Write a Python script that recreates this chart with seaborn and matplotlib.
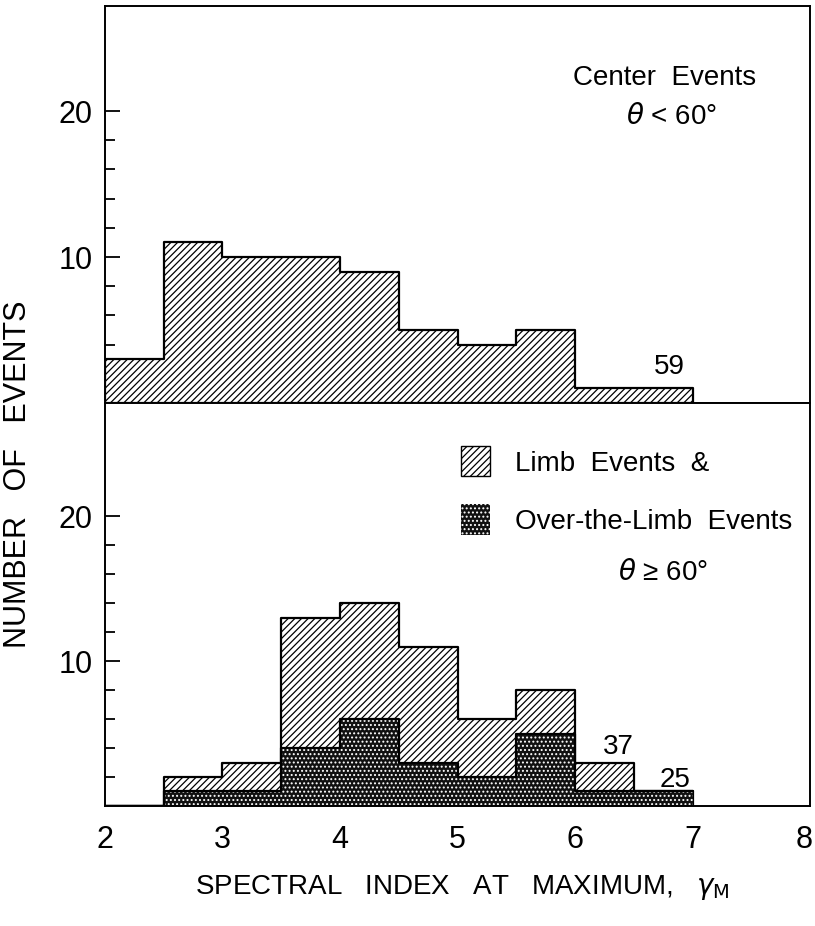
import numpy as np
import matplotlib
matplotlib.use("Agg")
import matplotlib.pyplot as plt
from matplotlib.patches import Patch
from matplotlib.ticker import FixedLocator
from matplotlib.transforms import ScaledTranslation
import seaborn as sns

# histogram bins of the spectral index, width 0.5
edges = [2.0, 2.5, 3.0, 3.5, 4.0, 4.5, 5.0, 5.5, 6.0, 6.5, 7.0]
centers = [2.25, 2.75, 3.25, 3.75, 4.25, 4.75, 5.25, 5.75, 6.25, 6.75]

# center events (theta < 60), 59 in total
center_counts = [3, 11, 10, 10, 9, 5, 4, 5, 1, 1]
# limb events (hatched) and over-the-limb events (dark), theta >= 60
limb_counts = [0, 1, 2, 9, 8, 8, 4, 3, 2, 0]
over_counts = [0, 1, 1, 4, 6, 3, 2, 5, 1, 1]

x_ticks = [2, 3, 4, 5, 6, 7, 8]

sns.set_style("white")
plt.rcParams["font.family"] = ["Liberation Sans", "DejaVu Sans"]
plt.rcParams["hatch.linewidth"] = 0.9
plt.rcParams["mathtext.fontset"] = "dejavusans"
plt.rcParams["text.color"] = "black"
plt.rcParams["xtick.color"] = "black"
plt.rcParams["ytick.color"] = "black"

fig = plt.figure(figsize=(8.15, 9.26), dpi=100)
ax1 = fig.add_axes([0.1288, 0.5648, 0.8651, 0.4287])
ax2 = fig.add_axes([0.1288, 0.1296, 0.8651, 0.4352], sharex=ax1)

stack_total = np.array(limb_counts) + np.array(over_counts)

sns.histplot(x=centers, weights=center_counts, bins=edges, element="step",
             fill=True, ax=ax1, facecolor="white", edgecolor="black",
             hatch="/////", linewidth=1.6, alpha=1)

sns.histplot(x=centers, weights=stack_total, bins=edges, element="step",
             fill=True, ax=ax2, facecolor="white", edgecolor="black",
             hatch="/////", linewidth=1.6, alpha=1)
sns.histplot(x=centers, weights=over_counts, bins=edges, element="step",
             fill=True, ax=ax2, facecolor="#111111", edgecolor="white",
             hatch="....", linewidth=0, alpha=1)
sns.histplot(x=centers, weights=over_counts, bins=edges, element="step",
             fill=False, ax=ax2, color="black", linewidth=1.6)

for ax, top in [(ax1, 27.2), (ax2, 27.8)]:
    ax.set_xlim(2, 8)
    ax.set_ylim(0, top)
    ax.yaxis.set_major_locator(FixedLocator([10, 20]))
    ax.yaxis.set_minor_locator(FixedLocator([2, 4, 6, 8, 12, 14, 16, 18]))
    ax.tick_params(axis="y", which="major", direction="in", left=True,
                   length=11, width=1.3, pad=9, labelsize=22)
    ax.tick_params(axis="y", which="minor", direction="in", left=True,
                   length=7, width=1.3)
    ax.set_ylabel("")
    ax.set_xlabel("")
    for s in ax.spines.values():
        s.set_linewidth(1.4)
        s.set_color("black")
        s.set_visible(True)
    ax.set_facecolor("white")

ax1.tick_params(axis="x", length=0, labelbottom=False)
ax2.set_xticks(x_ticks)
ax2.tick_params(axis="x", length=0, pad=14, labelsize=22)
# last label sits just inside the right edge
last = ax2.get_xticklabels()[-1]
last.set_transform(last.get_transform() + ScaledTranslation(-6 / 100, 0, fig.dpi_scale_trans))

# top panel texts
ax1.text(6.76, 22.3, "Center  Events", ha="center", va="center", fontsize=20)
ax1.text(6.82, 19.6, r"$\theta$ < 60°", ha="center", va="center", fontsize=20)
ax1.text(6.8, 2.5, "59", ha="center", va="center", fontsize=20)

# bottom panel texts
handles = [Patch(facecolor="white", edgecolor="black", hatch="/////", linewidth=1),
           Patch(facecolor="#111111", edgecolor="white", hatch="....", linewidth=0)]
ax2.legend(handles, ["Limb  Events  &", "Over-the-Limb  Events"],
           loc="upper left", bbox_to_anchor=(0.505, 0.893), frameon=False,
           fontsize=20, handlelength=1.05, handleheight=1.3, handletextpad=0.9,
           labelspacing=1.0, borderpad=0, borderaxespad=0)
ax2.text(6.75, 16.1, r"$\theta$ ≥ 60°", ha="center", va="center", fontsize=20)
ax2.text(6.37, 4.07, "37", ha="center", va="center", fontsize=20)
ax2.text(6.85, 1.8, "25", ha="center", va="center", fontsize=20)

fig.text(0.022, 0.488, "NUMBER   OF   EVENTS", rotation=90, ha="center",
         va="center", fontsize=22)
fig.text(0.567, 0.042, r"SPECTRAL   INDEX   AT   MAXIMUM,   $\gamma_{\rm M}$",
         ha="center", va="center", fontsize=20)

fig.savefig("out.png", dpi=100)
